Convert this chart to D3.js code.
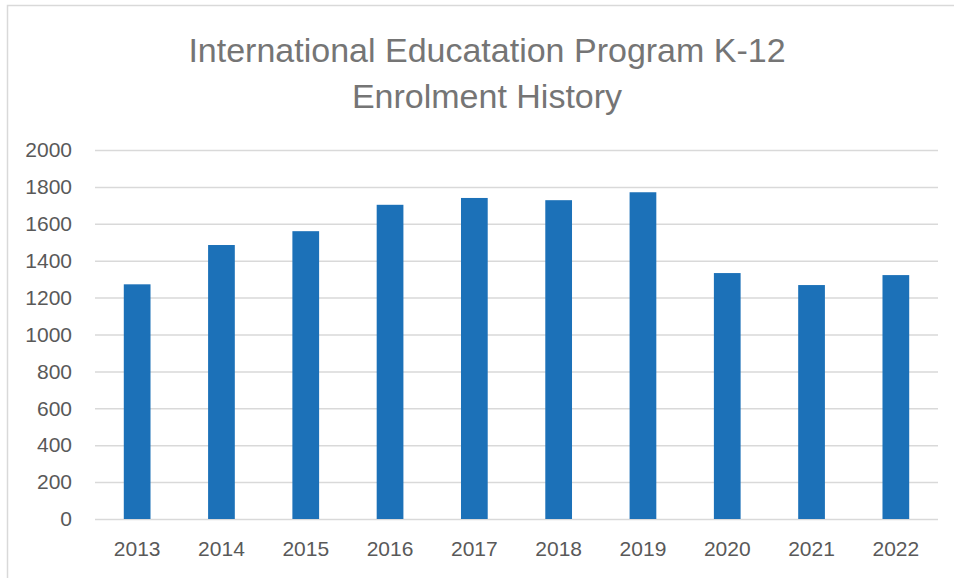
<!DOCTYPE html>
<html>
<head>
<meta charset="utf-8">
<script src="https://cdn.jsdelivr.net/npm/d3@7"></script>
<style>
  body { margin: 0; background: #fff; }
  svg { display: block; }
</style>
</head>
<body>
<div id="chart"></div>
<script>
// enrolment per school year
const years = ["2013", "2014", "2015", "2016", "2017", "2018", "2019", "2020", "2021", "2022"];
const enrolment = [1272, 1485, 1560, 1703, 1740, 1728, 1771, 1333, 1268, 1322];
const yTicks = [0, 200, 400, 600, 800, 1000, 1200, 1400, 1600, 1800, 2000];
const titleLines = ["International Educatation Program K-12", "Enrolment History"];

const W = 954, H = 578;
const margin = {top: 150, right: 16, bottom: 59, left: 95};
const width = W - margin.left - margin.right;
const height = H - margin.top - margin.bottom;
const font = "'Liberation Sans', Arial, sans-serif";

const svg = d3.select("#chart")
  .append("svg")
    .attr("width", W)
    .attr("height", H);

// chart frame (only top + left edges are visible)
svg.append("path")
  .attr("d", `M7.5,${H} V5.5 H${W}`)
  .attr("fill", "none")
  .attr("stroke", "#d9d9d9")
  .attr("stroke-width", 1.5);

svg.append("g")
  .selectAll("text")
  .data(titleLines)
  .enter()
  .append("text")
    .attr("x", 487)
    .attr("y", (d, i) => 62 + i * 46)
    .attr("text-anchor", "middle")
    .attr("font-family", font)
    .attr("font-size", 34)
    .attr("fill", "#757575")
    .text(d => d);

const g = svg.append("g")
  .attr("transform", `translate(${margin.left},${margin.top})`);

const x = d3.scaleBand()
  .domain(years)
  .range([0, width])
  .paddingInner(0.683)
  .paddingOuter(0.3415);

const y = d3.scaleLinear()
  .domain([0, 2000])
  .range([height, 0]);

// gridlines
g.append("g")
  .call(d3.axisLeft(y).tickValues(yTicks).tickSize(-width).tickFormat(""))
  .call(a => a.select(".domain").remove())
  .call(a => a.selectAll("line").attr("stroke", "#d9d9d9").attr("stroke-width", 1.5));

// y labels
g.append("g")
  .call(d3.axisLeft(y).tickValues(yTicks).tickSize(0).tickPadding(23).tickFormat(d3.format("d")))
  .call(a => a.select(".domain").remove())
  .call(a => a.selectAll("text")
    .attr("font-family", font)
    .attr("font-size", 21)
    .attr("fill", "#595959"));

g.selectAll("rect.bar")
  .data(enrolment)
  .enter()
  .append("rect")
    .attr("class", "bar")
    .attr("x", (d, i) => x(years[i]))
    .attr("y", d => y(d))
    .attr("width", x.bandwidth())
    .attr("height", d => height - y(d))
    .attr("fill", "#1c71b8");

// x labels
g.append("g")
  .attr("transform", `translate(0,${height})`)
  .call(d3.axisBottom(x).tickSize(0).tickPadding(22))
  .call(a => a.select(".domain").remove())
  .call(a => a.selectAll("text")
    .attr("font-family", font)
    .attr("font-size", 21)
    .attr("fill", "#595959"));
</script>
</body>
</html>
